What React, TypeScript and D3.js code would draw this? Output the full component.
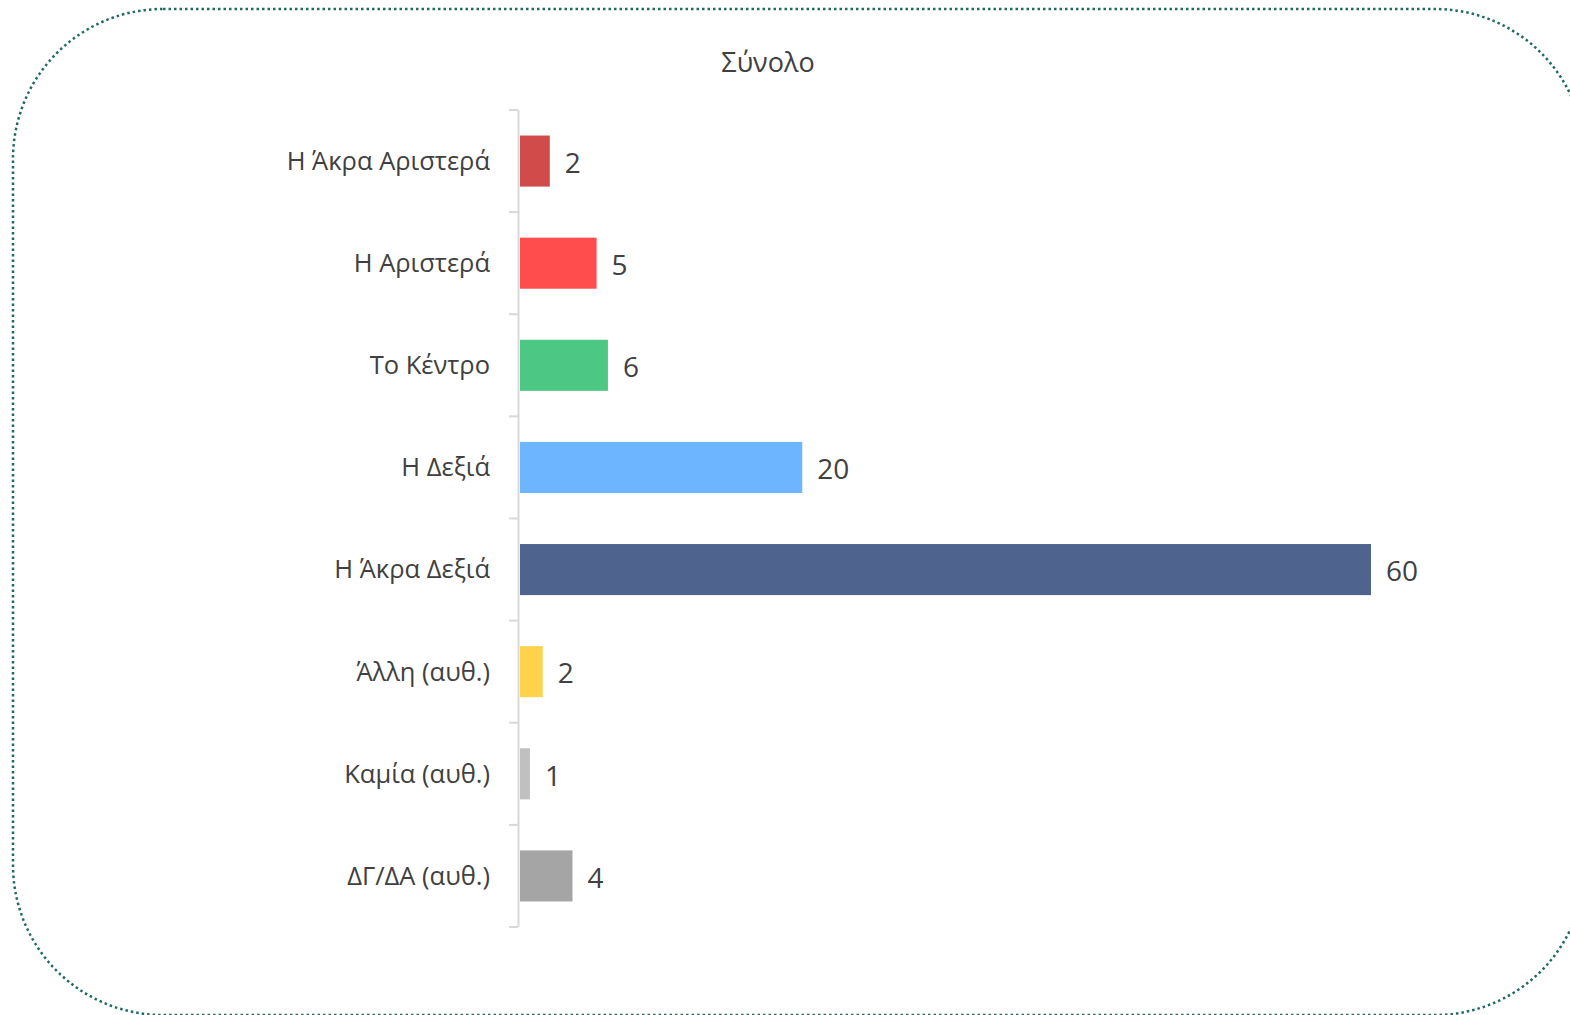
import * as d3 from "d3";

const categories = [
  "Η Άκρα Αριστερά",
  "Η Αριστερά",
  "Το Κέντρο",
  "Η Δεξιά",
  "Η Άκρα Δεξιά",
  "Άλλη (αυθ.)",
  "Καμία (αυθ.)",
  "ΔΓ/ΔΑ (αυθ.)",
];
// shares; labels show them rounded
const values = [2.1, 5.4, 6.2, 19.9, 60, 1.6, 0.7, 3.7];
const colors = [
  "#d14b4b",
  "#ff4c4c",
  "#4cc884",
  "#6eb5ff",
  "#4e648f",
  "#ffd24c",
  "#c0c0c0",
  "#a5a5a5",
];
const title = "Σύνολο";

const width = 1570;
const height = 1015;
const font = "'Open Sans', 'Noto Sans', sans-serif";
const textColor = "#404040";
const fmt = d3.format(".0f");

export default function App() {
  const x = d3.scaleLinear().domain([0, 60]).range([520, 1371]);
  const y = d3
    .scaleBand()
    .domain(categories)
    .range([110, 927])
    .paddingInner(0.5)
    .paddingOuter(0.25);
  const step = y.step();
  const top = 110;

  return (
    <svg
      width={width}
      height={height}
      style={{ position: "absolute", left: 0, top: 0, background: "#fff" }}
    >
      <rect
        x={13}
        y={9}
        width={1572}
        height={1006}
        rx={150}
        ry={150}
        fill="none"
        stroke="#1f6b63"
        strokeWidth={2.5}
        strokeDasharray="2.5 3"
      />
      <text
        x={768}
        y={72}
        textAnchor="middle"
        fontFamily={font}
        fontSize={27}
        fill={textColor}
      >
        {title}
      </text>
      {/* axis */}
      <line x1={518.5} x2={518.5} y1={110} y2={927} stroke="#d9d9d9" strokeWidth={2} />
      {d3.range(categories.length + 1).map((i) => (
        <line
          key={"t" + i}
          x1={509}
          x2={518}
          y1={top + i * step}
          y2={top + i * step}
          stroke="#d9d9d9"
          strokeWidth={2}
        />
      ))}
      {categories.map((c, i) => {
        const yc = (y(c) as number) + y.bandwidth() / 2;
        return (
          <g key={c}>
            <text
              x={490}
              y={yc}
              dy="0.35em"
              textAnchor="end"
              fontFamily={font}
              fontSize={25.5}
              fill={textColor}
            >
              {c}
            </text>
            <rect
              x={x(0)}
              y={y(c)}
              width={x(values[i]) - x(0)}
              height={y.bandwidth()}
              fill={colors[i]}
            />
            <text
              x={x(values[i]) + 15}
              y={yc + 2}
              dy="0.35em"
              fontFamily={font}
              fontSize={28}
              fill={textColor}
            >
              {fmt(values[i])}
            </text>
          </g>
        );
      })}
    </svg>
  );
}
